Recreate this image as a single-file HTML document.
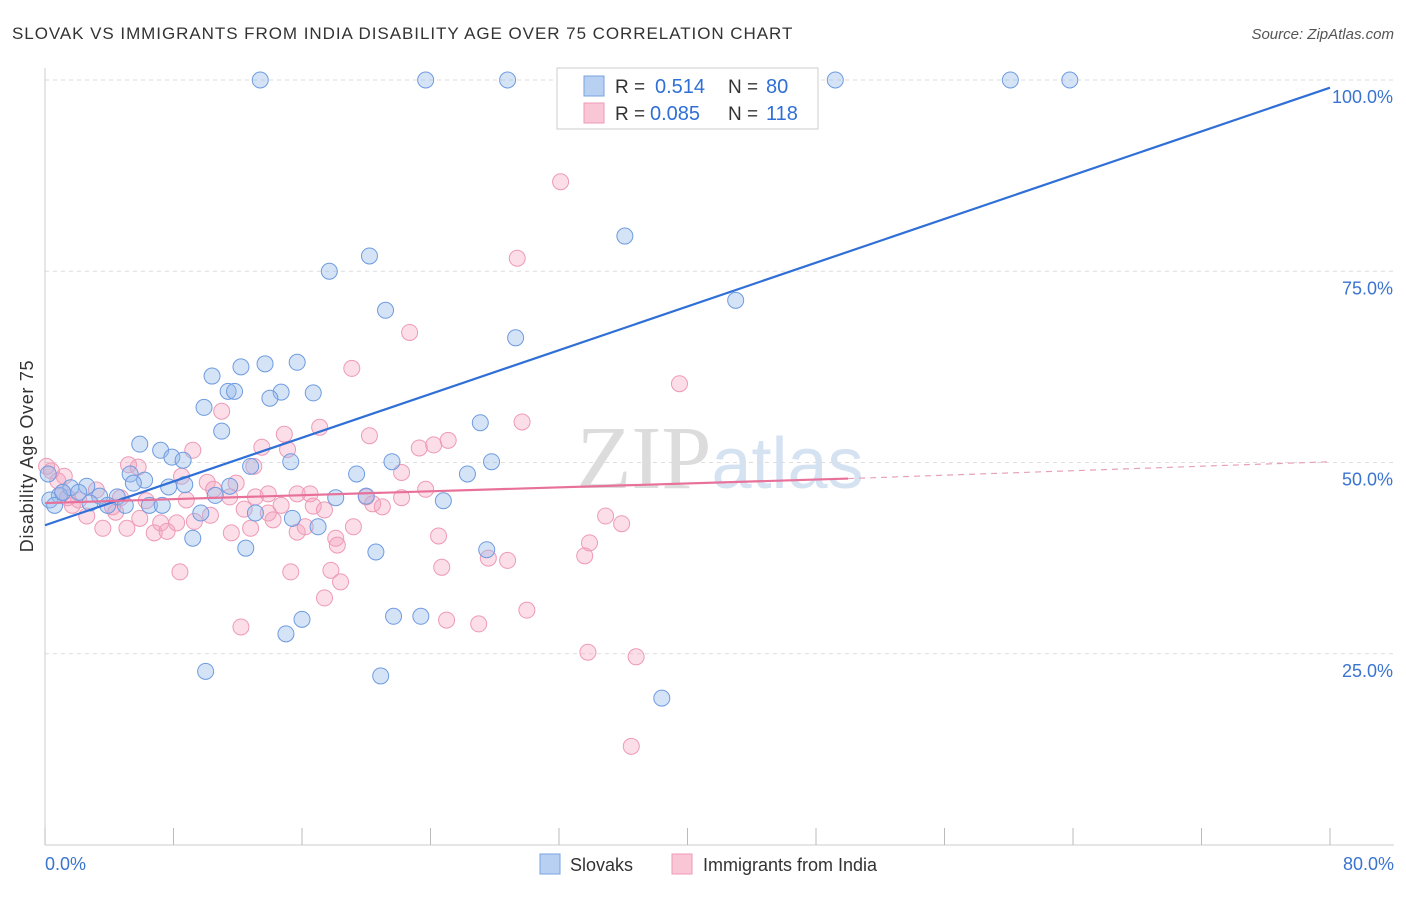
<!DOCTYPE html>
<html><head><meta charset="utf-8"><style>
body{margin:0;background:#fff;font-family:"Liberation Sans",sans-serif}
svg text{font-family:"Liberation Sans",sans-serif}
</style></head><body>
<svg id="chart" width="1406" height="892" xmlns="http://www.w3.org/2000/svg">
<text x="12" y="39" font-size="17" letter-spacing="0.95" fill="#333">SLOVAK VS IMMIGRANTS FROM INDIA DISABILITY AGE OVER 75 CORRELATION CHART</text>
<text x="1394" y="39" font-size="15" fill="#555" font-style="italic" text-anchor="end">Source: ZipAtlas.com</text>
<text x="720" y="488" font-size="90" fill="#e6e6e6" text-anchor="middle" font-family="Liberation Serif"><tspan font-family="Liberation Serif" fill="#dcdcdc">ZIP</tspan><tspan font-family="Liberation Sans" font-size="72" fill="#d5e2f2">atlas</tspan></text>
<g id="grid"></g><g id="axes"></g><g id="pts"></g><g id="trend"></g>
<text x="33" y="456" font-size="18" letter-spacing="0.7" fill="#333" text-anchor="middle" transform="rotate(-90 33 456)">Disability Age Over 75</text>
<text x="45" y="870" font-size="18" fill="#3a74d0">0.0%</text>
<text x="1394" y="870" font-size="18" fill="#3a74d0" text-anchor="end">80.0%</text>
<g>
<rect x="557" y="68" width="261" height="61" fill="#fff" stroke="#ccc"/>
<rect x="584" y="76" width="20" height="20" fill="#b8d0f2" stroke="#7aa3df"/>
<rect x="584" y="103" width="20" height="20" fill="#f9c6d6" stroke="#ee9ab5"/>
<text x="615" y="93" font-size="19" fill="#333">R =</text>
<text x="655" y="93" font-size="20" fill="#2f6fd6">0.514</text>
<text x="728" y="93" font-size="19" fill="#333">N =</text>
<text x="766" y="93" font-size="20" fill="#2f6fd6">80</text>
<text x="615" y="120" font-size="19" fill="#333">R =</text>
<text x="650" y="120" font-size="20" fill="#2f6fd6">0.085</text>
<text x="728" y="120" font-size="19" fill="#333">N =</text>
<text x="766" y="120" font-size="20" fill="#2f6fd6">118</text>
</g>
<g>
<rect x="540" y="854" width="20" height="20" fill="#b8d0f2" stroke="#7aa3df"/>
<text x="570" y="871" font-size="18" fill="#333">Slovaks</text>
<rect x="672" y="854" width="20" height="20" fill="#f9c6d6" stroke="#ee9ab5"/>
<text x="703" y="871" font-size="18" fill="#333">Immigrants from India</text>
</g>
<g id="top"></g>
</svg>
<script>
const yTicks=[25,50,75,100];
const yTickLabels=["25.0%","50.0%","75.0%","100.0%"];
const xTicks=[0,8,16,24,32,40,48,56,64,72,80];
const slovakX=[13.4,23.7,28.8,49.2,60.1,63.8,43.3,36.1,17.7,20.2,21.2,43.0,29.3,13.7,15.7,12.2,10.4,11.4,11.8,14.7,14.0,16.7,9.9,11.0,5.9,7.2,7.9,8.6,27.1,27.8,26.3,19.4,21.6,15.3,12.8,5.3,6.2,5.5,2.6,1.6,7.7,8.7,11.5,10.6,18.1,20.0,24.8,3.4,4.5,0.9,0.3,0.6,3.9,5.0,6.5,7.3,9.7,13.1,15.4,17.0,9.2,12.5,20.6,27.5,21.7,23.4,16.0,15.0,10.0,20.9,38.4,0.2,1.1,2.1,2.8];
const slovakY=[100,100,100,100,100,100,100,79.6,75.0,77.0,69.9,71.2,66.3,62.9,63.1,62.5,61.3,59.3,59.3,59.2,58.4,59.1,57.2,54.1,52.4,51.6,50.7,50.3,55.2,50.1,48.5,48.5,50.1,50.1,49.5,48.5,47.7,47.3,46.9,46.7,46.8,47.1,46.9,45.7,45.4,45.6,45.0,45.6,45.5,45.7,45.1,44.4,44.4,44.4,44.4,44.4,43.4,43.4,42.7,41.6,40.1,38.8,38.3,38.6,29.9,29.9,29.5,27.6,22.7,22.1,19.2,48.5,46.1,46.1,44.7];
const indiaX=[32.1,43.3,29.4,22.7,19.1,39.5,11.0,29.7,17.1,14.9,20.2,25.1,24.2,23.3,15.1,13.5,9.2,5.2,5.8,0.1,0.4,1.2,22.2,13.0,8.5,11.9,10.1,23.7,13.9,15.7,16.5,20.0,22.2,20.4,21.0,13.1,11.5,10.5,8.8,6.3,3.2,2.1,1.7,0.8,16.7,17.4,14.7,12.4,13.9,14.2,10.3,9.3,8.2,7.2,5.9,4.4,2.6,3.6,5.1,6.8,7.6,11.6,12.8,15.7,16.2,19.2,18.1,18.2,24.5,33.9,33.6,34.9,35.9,27.6,28.8,24.7,17.8,15.3,8.4,18.4,17.4,30.0,25.0,27.0,12.2,33.8,36.8,36.5,1.1,1.4,4.7,4.2];
const indiaY=[86.7,100,76.7,67.0,62.3,60.3,56.7,55.3,54.6,53.7,53.5,52.9,52.3,51.9,51.7,52.0,51.6,49.7,49.4,49.5,48.9,48.2,48.7,49.5,48.2,47.3,47.4,46.5,45.9,45.9,45.9,45.5,45.4,44.6,44.2,45.5,45.5,46.5,45.1,45.0,46.4,45.1,44.4,47.6,44.3,43.8,44.4,43.9,43.4,42.5,43.1,42.3,42.1,42.1,42.7,43.5,43.0,41.4,41.4,40.8,41.0,40.8,41.4,40.9,41.6,41.6,40.1,39.2,40.4,39.5,37.8,43.0,42.0,37.5,37.2,36.3,35.9,35.7,35.7,34.4,32.3,30.7,29.4,28.9,28.5,25.2,24.6,12.9,46.1,45.4,45.4,44.2];
const slovakTrend=[[0,41.8],[80,99.0]];
const indiaTrendSolid=[[0,44.7],[50,47.9]];
const indiaTrendDash=[[50,47.9],[80,50.1]];

const NS="http://www.w3.org/2000/svg";
const X0=45,X1=1330,Y0=845,YH=80;
const sx=v=>X0+v/80*(X1-X0);
const sy=v=>Y0-v/100*(Y0-YH);
function mk(tag,attrs,parent){const e=document.createElementNS(NS,tag);for(const k in attrs)e.setAttribute(k,attrs[k]);parent.appendChild(e);return e;}
const grid=document.getElementById('grid'),axes=document.getElementById('axes'),pts=document.getElementById('pts'),tr=document.getElementById('trend');
yTicks.forEach((t,i)=>{
  const l=mk('line',{x1:X0,x2:1394,y1:sy(t),y2:sy(t),stroke:'#ddd','stroke-dasharray':'4,4'},grid);
  
  
  const tx=mk('text',{x:1393,y:sy(t)+23,'font-size':18,fill:'#3a74d0','text-anchor':'end'},grid);
  tx.textContent=yTickLabels[i];
  
  
});
const ax=mk('line',{x1:X0,x2:X0,y1:68,y2:Y0,stroke:'#ccc'},axes);


const bx=mk('line',{x1:X0,x2:1394,y1:Y0,y2:Y0,stroke:'#ccc'},axes);


xTicks.forEach(t=>{
  const l=mk('line',{x1:sx(t),x2:sx(t),y1:828,y2:Y0,stroke:'#bbb'},axes);
  
  
});
indiaX.forEach((x,i)=>{
  const c=mk('circle',{cx:sx(x),cy:sy(indiaY[i]),r:8,fill:'rgba(244,160,188,0.35)',stroke:'#ee9ab5','stroke-width':1},pts);
  
  
});
slovakX.forEach((x,i)=>{
  const c=mk('circle',{cx:sx(x),cy:sy(slovakY[i]),r:8,fill:'rgba(150,185,235,0.4)',stroke:'#6e9be0','stroke-width':1},pts);
  
  
});
const l1=mk('line',{x1:sx(slovakTrend[0][0]),y1:sy(slovakTrend[0][1]),x2:sx(slovakTrend[1][0]),y2:sy(slovakTrend[1][1]),stroke:'#2f6fd6','stroke-width':2.2},tr);


const l2=mk('line',{x1:sx(indiaTrendSolid[0][0]),y1:sy(indiaTrendSolid[0][1]),x2:sx(indiaTrendSolid[1][0]),y2:sy(indiaTrendSolid[1][1]),stroke:'#e8719a','stroke-width':2.2},tr);


const l3=mk('line',{x1:sx(indiaTrendDash[0][0]),y1:sy(indiaTrendDash[0][1]),x2:sx(indiaTrendDash[1][0]),y2:sy(indiaTrendDash[1][1]),stroke:'#e8a0b8','stroke-width':1.2,'stroke-dasharray':'6,5'},tr);


</script>
</body></html>
